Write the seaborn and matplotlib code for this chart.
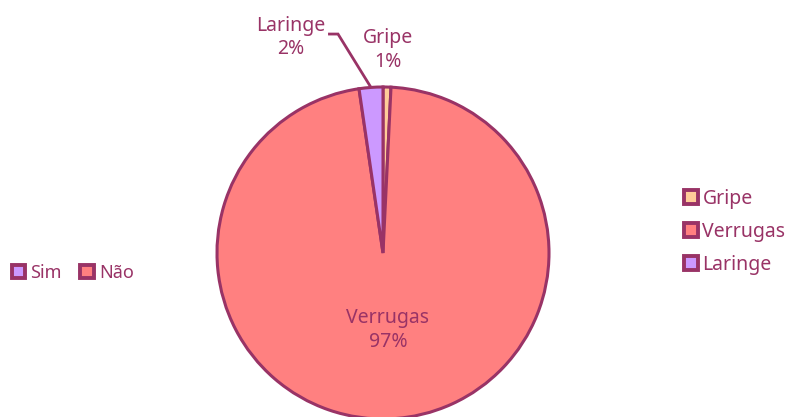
import numpy as np
import matplotlib
matplotlib.use("Agg")
import matplotlib.pyplot as plt
import seaborn as sns
from matplotlib.patches import Patch

categories = ["Gripe", "Verrugas", "Laringe"]
counts = [1, 126, 3]
pct_labels = ["1%", "97%", "2%"]
legend2_labels = ["Sim", "Não"]

sns.set_theme(style="white")
plt.rcParams['font.family'] = ['Noto Sans', 'DejaVu Sans']

colors = sns.color_palette(["#FFCC99", "#FF8080", "#CC99FF"])
edge = "#993366"
txt = "#993366"

fig = plt.figure(figsize=(7.91, 4.17), dpi=100)
ax = fig.add_axes([0, 0, 1, 1])
ax.set_axis_off()

scale = 166.0
cx, cy = 383.0, 253.0

wedges, _ = ax.pie(counts, colors=colors, startangle=90, counterclock=False,
                   radius=1.0, center=(0, 0),
                   wedgeprops=dict(edgecolor=edge, linewidth=2.2))
ax.set_aspect('auto')
ax.set_xlim(-cx / scale, (791 - cx) / scale)
ax.set_ylim(-(417 - cy) / scale, cy / scale)

fs = 14
ax.text(0.03, 1.223, f"{categories[0]}\n{pct_labels[0]}", ha="center", va="center",
        color=txt, fontsize=fs, linespacing=1.3)
ax.text(0.03, -0.464, f"{categories[1]}\n{pct_labels[1]}", ha="center", va="center",
        color=txt, fontsize=fs, linespacing=1.3)
ax.text(-0.554, 1.30, f"{categories[2]}\n{pct_labels[2]}", ha="center", va="center",
        color=txt, fontsize=fs, linespacing=1.2)
w = wedges[2]
mid = np.deg2rad((w.theta1 + w.theta2) / 2)
px, py = np.cos(mid), np.sin(mid)
ax.plot([-0.331, -0.271, px], [1.319, 1.319, py], color=edge, lw=2.0,
        solid_capstyle="butt", solid_joinstyle="miter")

handles = [Patch(facecolor=colors[i], edgecolor=edge, linewidth=2.8) for i in range(3)]
leg = fig.legend(handles, categories, loc="center left", bbox_to_anchor=(0.842, 0.444),
                 frameon=False, fontsize=fs, handlelength=0.72, handleheight=0.72,
                 handletextpad=0.25, labelspacing=0.68, labelcolor=txt)

handles2 = [Patch(facecolor=colors[2], edgecolor=edge, linewidth=2.8),
            Patch(facecolor=colors[1], edgecolor=edge, linewidth=2.8)]
leg2 = fig.legend(handles2, legend2_labels, loc="center left", bbox_to_anchor=(-0.006, 0.345),
                  frameon=False, fontsize=13, ncol=2, handlelength=0.75, handleheight=0.75,
                  handletextpad=0.3, columnspacing=1.0, labelcolor=txt)

fig.savefig("out.png", dpi=100)
